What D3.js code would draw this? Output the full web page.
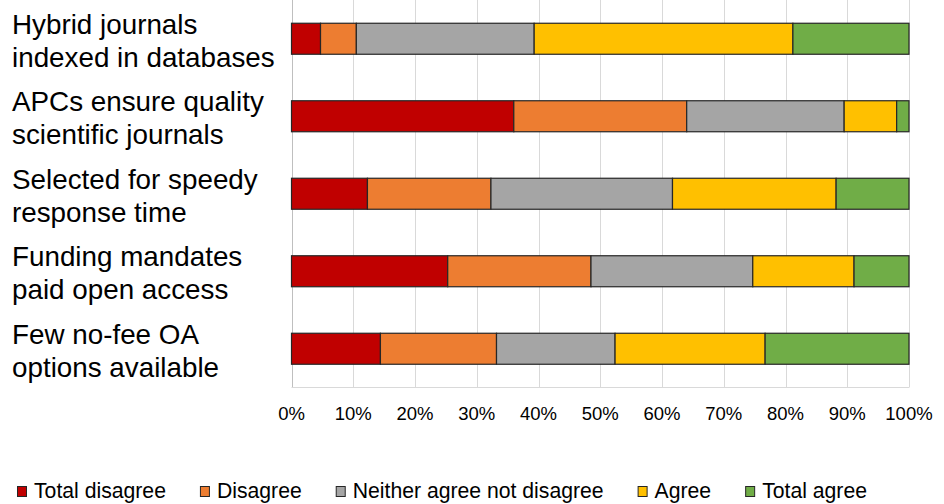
<!DOCTYPE html>
<html lang="en">
<head>
    <meta charset="UTF-8">
    <script src="https://d3js.org/d3.v7.min.js"></script>
    <style>
        body { margin: 0; background: #fff; }
        text { font-family: "Liberation Sans", Arial, sans-serif; fill: #000; }
    </style>
    <title>Open access attitudes</title>
</head>
<body>
<div id="chart"></div>
<script>
    const width = 944;
    const height = 504;

    // categories (two lines each)
    const categories = [
        ["Hybrid journals", "indexed in databases"],
        ["APCs ensure quality", "scientific journals"],
        ["Selected for speedy", "response time"],
        ["Funding mandates", "paid open access"],
        ["Few no-fee OA", "options available"]
    ];
    const seriesNames = ["Total disagree", "Disagree", "Neither agree not disagree", "Agree", "Total agree"];
    const seriesColors = ["#C00000", "#ED7D31", "#A5A5A5", "#FFC000", "#70AD47"];

    // percentages per series, one value per category
    const totalDisagree = [4.7, 36.0, 12.3, 25.3, 14.4];
    const disagree      = [5.8, 28.0, 20.0, 23.2, 18.8];
    const neither       = [28.8, 25.5, 29.4, 26.2, 19.2];
    const agree         = [41.9, 8.5, 26.5, 16.4, 24.3];
    const totalAgree    = [18.8, 2.0, 11.8, 8.9, 23.3];
    const tickValues = [0, 10, 20, 30, 40, 50, 60, 70, 80, 90, 100];

    const seriesValues = [totalDisagree, disagree, neither, agree, totalAgree];

    const svg = d3.select("#chart").append("svg")
        .attr("width", width)
        .attr("height", height);

    const x = d3.scaleLinear()
        .domain([0, 100])
        .range([291.5, 909]);

    const y = d3.scaleBand()
        .domain(d3.range(categories.length))
        .range([0, 387.5])
        .paddingInner(0.6)
        .paddingOuter(0.3);

    // gridlines
    svg.append("g")
        .selectAll("line")
        .data(tickValues)
        .enter().append("line")
        .attr("x1", d => Math.round(x(d)) + 0.5)
        .attr("x2", d => Math.round(x(d)) + 0.5)
        .attr("y1", 0)
        .attr("y2", 387.5)
        .attr("stroke", "#d9d9d9")
        .attr("stroke-width", 1);

    // axis lines
    svg.append("line")
        .attr("x1", Math.round(x(0)) + 0.5).attr("x2", Math.round(x(0)) + 0.5)
        .attr("y1", 0).attr("y2", 387.5)
        .attr("stroke", "#bfbfbf");
    svg.append("line")
        .attr("x1", x(0)).attr("x2", x(100))
        .attr("y1", 387.5).attr("y2", 387.5)
        .attr("stroke", "#d9d9d9");

    // stacked data
    const rows = categories.map((c, i) => {
        const row = { i };
        seriesNames.forEach((s, k) => { row[s] = seriesValues[k][i]; });
        return row;
    });
    const stacked = d3.stack().keys(seriesNames)(rows);

    svg.append("g")
        .selectAll("g")
        .data(stacked)
        .enter().append("g")
        .attr("fill", (d, k) => seriesColors[k])
        .selectAll("rect")
        .data(d => d)
        .enter().append("rect")
        .attr("x", d => x(d[0]))
        .attr("width", d => x(Math.min(d[1], 100)) - x(d[0]))
        .attr("y", (d, i) => y(i))
        .attr("height", y.bandwidth())
        .attr("stroke", "#262626")
        .attr("stroke-width", 1.2);

    // x tick labels
    svg.append("g")
        .selectAll("text")
        .data(tickValues)
        .enter().append("text")
        .attr("x", d => x(d))
        .attr("y", 419.5)
        .attr("text-anchor", "middle")
        .style("font-size", "18.5px")
        .text(d => d + "%");

    // category labels
    const labels = svg.append("g")
        .selectAll("text")
        .data(categories)
        .enter().append("text")
        .attr("x", 12)
        .attr("y", (d, i) => y(i) + y.bandwidth() / 2 - 5)
        .style("font-size", "27.8px");
    labels.selectAll("tspan")
        .data(d => d)
        .enter().append("tspan")
        .attr("x", 12)
        .attr("dy", (d, j) => j === 0 ? 0 : 33)
        .text(d => d);

    // legend
    const legend = svg.append("g");
    let lx = 17;
    seriesNames.forEach((name, k) => {
        legend.append("rect")
            .attr("x", lx + 0.5)
            .attr("y", 486.5)
            .attr("width", 9)
            .attr("height", 10)
            .attr("fill", seriesColors[k])
            .attr("stroke", "#262626")
            .attr("stroke-width", 1);
        const t = legend.append("text")
            .attr("x", lx + 17)
            .attr("y", 497.5)
            .style("font-size", "21.2px")
            .text(name);
        lx += 17 + t.node().getComputedTextLength() + 34;
    });
</script>
</body>
</html>
